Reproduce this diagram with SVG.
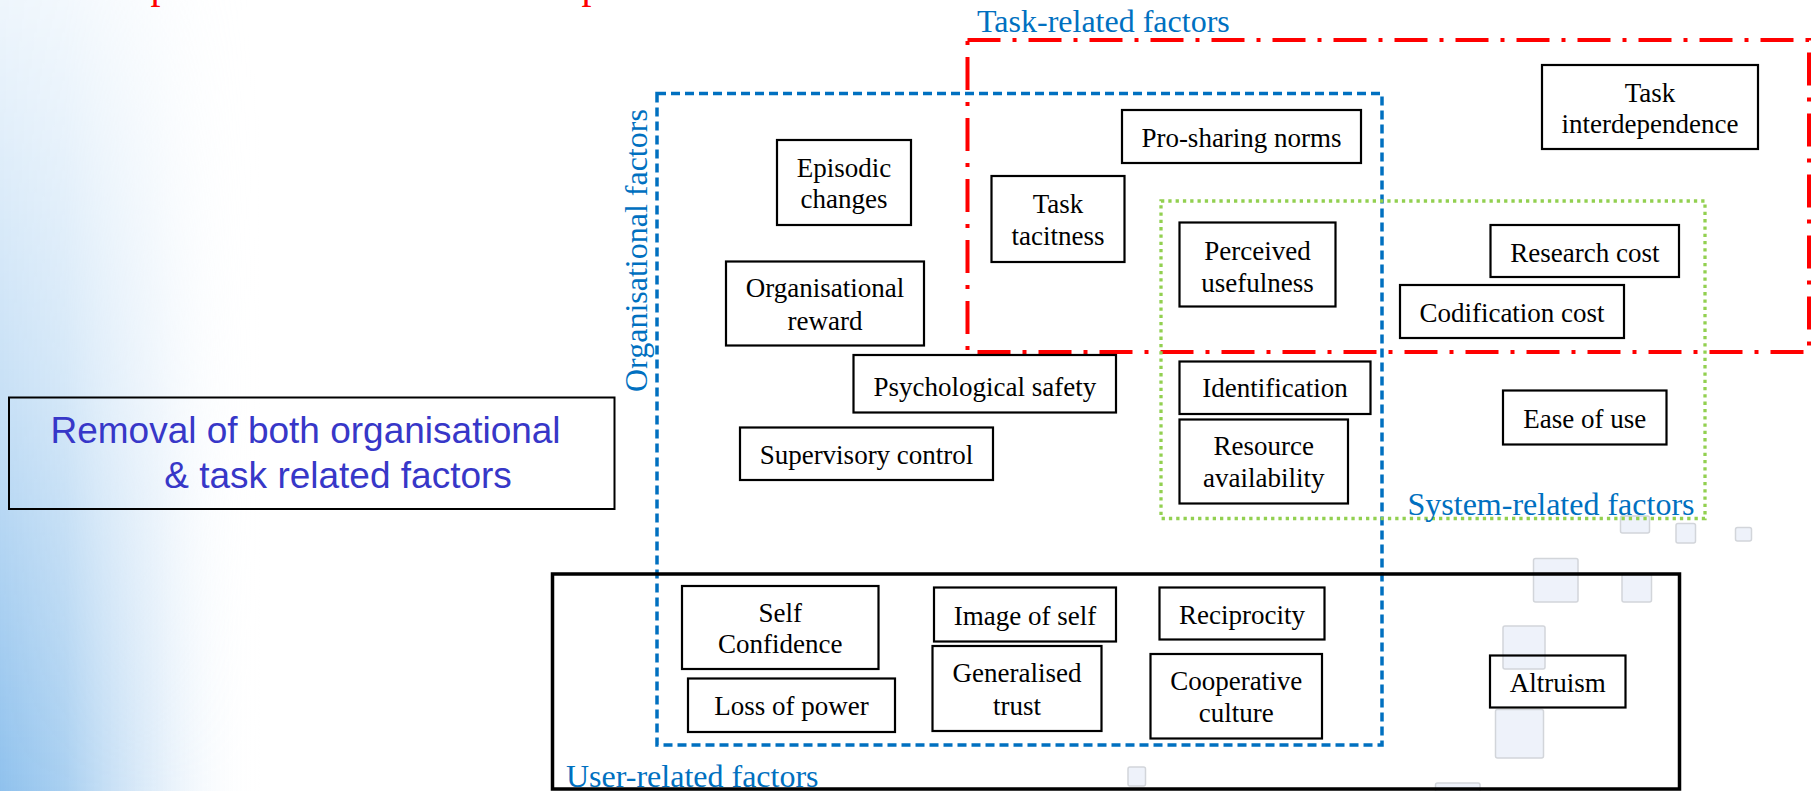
<svg xmlns="http://www.w3.org/2000/svg" width="1817" height="791" viewBox="0 0 1817 791">
  <defs>
    <linearGradient id="sideFade" x1="0" y1="0" x2="1" y2="0">
      <stop offset="0" stop-color="#8fc1ed" stop-opacity="1"/>
      <stop offset="0.25" stop-color="#9fcaef" stop-opacity="0.9"/>
      <stop offset="0.6" stop-color="#c2dcf4" stop-opacity="0.5"/>
      <stop offset="1" stop-color="#ffffff" stop-opacity="0"/>
    </linearGradient>
    <linearGradient id="sideMaskGrad" x1="0" y1="0" x2="0" y2="1">
      <stop offset="0" stop-color="#ffffff" stop-opacity="0.15"/>
      <stop offset="0.5" stop-color="#ffffff" stop-opacity="0.5"/>
      <stop offset="1" stop-color="#ffffff" stop-opacity="1"/>
    </linearGradient>
    <mask id="sideMask" maskUnits="userSpaceOnUse" x="0" y="0" width="260" height="791">
      <rect x="0" y="0" width="260" height="791" fill="url(#sideMaskGrad)"/>
    </mask>
    <style>
      .node rect { fill: none; stroke: #000; stroke-width: 2.2; }
      .node text { font-family: "Liberation Serif", "Times New Roman", serif; font-size: 27px; fill: #000; text-anchor: middle; }
      .label { font-family: "Liberation Serif", "Times New Roman", serif; font-size: 32px; fill: #0070c0; }
      .ghost { fill: #eef2fa; stroke: #d2d5da; stroke-width: 1.5; }
      .title { font-family: "Liberation Serif", "Times New Roman", serif; font-size: 40px; fill: #ff0000; }
    </style>
  </defs>

  <!-- page background with blue side fade -->
  <rect x="0" y="0" width="1817" height="791" fill="#ffffff"/>
  <rect x="0" y="0" width="260" height="791" fill="url(#sideFade)" mask="url(#sideMask)"/>

  <!-- slide title, cut off at the top edge -->
  <text class="title" x="150.5" y="-2">p</text>
  <text class="title" x="581.5" y="-2">p</text>

  <!-- faint leftover thumbnails -->
  <g id="thumbnails">
    <rect class="ghost" x="1620.5" y="516" width="29" height="17" rx="2"/>
    <rect class="ghost" x="1676" y="523.5" width="19.5" height="19.5" rx="2"/>
    <rect class="ghost" x="1735.5" y="527.5" width="16" height="13.5" rx="2"/>
    <rect class="ghost" x="1533.5" y="558.5" width="44.5" height="43.5" rx="2"/>
    <rect class="ghost" x="1622" y="574" width="29.5" height="28" rx="2"/>
    <rect class="ghost" x="1503" y="626" width="42" height="43" rx="2"/>
    <rect class="ghost" x="1495.5" y="709.5" width="48" height="48.5" rx="2"/>
    <rect class="ghost" x="1435.5" y="783" width="44.5" height="12" rx="2"/>
    <rect class="ghost" x="1128" y="767" width="17.5" height="19" rx="2"/>
  </g>

  <!-- factor groupings -->
  <g id="task-related-group">
    <rect x="967.5" y="40" width="841.5" height="312" fill="none" stroke="#ff0000" stroke-width="4" stroke-dasharray="33 12 4 12"/>
    <text class="label" x="977" y="31.5">Task-related factors</text>
  </g>
  <g id="organisational-group">
    <rect x="657" y="93.5" width="725" height="651.5" fill="none" stroke="#0070c0" stroke-width="3.5" stroke-dasharray="9 5"/>
    <text class="label" transform="translate(647,392) rotate(-90)">Organisational factors</text>
  </g>
  <g id="system-related-group">
    <rect x="1161" y="201" width="544" height="317.5" fill="none" stroke="#92d050" stroke-width="3.3" stroke-dasharray="3.3 4"/>
    <text class="label" x="1407.5" y="515">System-related factors</text>
  </g>
  <g id="user-related-group">
    <rect x="552.5" y="574" width="1127" height="215" fill="none" stroke="#000" stroke-width="3.5"/>
    <text class="label" x="566" y="787">User-related factors</text>
  </g>

  <!-- caption box -->
  <g id="removal-note">
    <rect x="9" y="397.5" width="605.5" height="111.5" fill="none" stroke="#000" stroke-width="2"/>
    <text x="50.5" y="443.3" font-family="Liberation Sans, Arial, sans-serif" font-size="37" fill="#3737c8">Removal of both organisational</text>
    <text x="164.3" y="488.3" font-family="Liberation Sans, Arial, sans-serif" font-size="37" fill="#3737c8">&amp; task related factors</text>
  </g>

  <!-- factor nodes -->
  <g id="episodic-changes" class="node">
    <rect x="777" y="140" width="134" height="85"/>
    <text x="844" y="176.5">Episodic</text>
    <text x="844" y="207.5">changes</text>
  </g>
  <g id="task-tacitness" class="node">
    <rect x="991.5" y="176" width="133" height="86"/>
    <text x="1058" y="213">Task</text>
    <text x="1058" y="245">tacitness</text>
  </g>
  <g id="pro-sharing-norms" class="node">
    <rect x="1122" y="110" width="239" height="53"/>
    <text x="1241.5" y="146.5">Pro-sharing norms</text>
  </g>
  <g id="perceived-usefulness" class="node">
    <rect x="1179.5" y="222.5" width="156" height="84"/>
    <text x="1257.5" y="260">Perceived</text>
    <text x="1257.5" y="291.5">usefulness</text>
  </g>
  <g id="organisational-reward" class="node">
    <rect x="726" y="261.5" width="198" height="84"/>
    <text x="825" y="297">Organisational</text>
    <text x="825" y="329.5">reward</text>
  </g>
  <g id="task-interdependence" class="node">
    <rect x="1542" y="65" width="216" height="84"/>
    <text x="1650" y="101.5">Task</text>
    <text x="1650" y="133">interdependence</text>
  </g>
  <g id="research-cost" class="node">
    <rect x="1490.5" y="225" width="188.5" height="52"/>
    <text x="1584.8" y="261.5">Research cost</text>
  </g>
  <g id="codification-cost" class="node">
    <rect x="1400" y="285" width="224" height="53"/>
    <text x="1512" y="321.5">Codification cost</text>
  </g>
  <g id="identification" class="node">
    <rect x="1179.5" y="361.5" width="191" height="52.5"/>
    <text x="1275" y="396.5">Identification</text>
  </g>
  <g id="ease-of-use" class="node">
    <rect x="1503" y="390.5" width="163.5" height="54"/>
    <text x="1584.7" y="427.5">Ease of use</text>
  </g>
  <g id="resource-availability" class="node">
    <rect x="1179.5" y="419.5" width="168.5" height="84"/>
    <text x="1263.7" y="455">Resource</text>
    <text x="1263.7" y="487">availability</text>
  </g>
  <g id="psychological-safety" class="node">
    <rect x="853.5" y="355" width="262.5" height="57.5"/>
    <text x="984.8" y="396">Psychological safety</text>
  </g>
  <g id="supervisory-control" class="node">
    <rect x="740" y="427.5" width="253" height="52.5"/>
    <text x="866.5" y="464">Supervisory control</text>
  </g>
  <g id="self-confidence" class="node">
    <rect x="682" y="586" width="196.5" height="83"/>
    <text x="780.3" y="621.5">Self</text>
    <text x="780.3" y="653">Confidence</text>
  </g>
  <g id="image-of-self" class="node">
    <rect x="934" y="587.5" width="182" height="54"/>
    <text x="1025" y="625">Image of self</text>
  </g>
  <g id="reciprocity" class="node">
    <rect x="1159.5" y="587.5" width="165" height="52"/>
    <text x="1242" y="624">Reciprocity</text>
  </g>
  <g id="loss-of-power" class="node">
    <rect x="688" y="678.5" width="207" height="53.5"/>
    <text x="791.5" y="715">Loss of power</text>
  </g>
  <g id="generalised-trust" class="node">
    <rect x="932.5" y="646" width="169" height="85"/>
    <text x="1017" y="681.5">Generalised</text>
    <text x="1017" y="715">trust</text>
  </g>
  <g id="cooperative-culture" class="node">
    <rect x="1150.5" y="654" width="171.5" height="84.5"/>
    <text x="1236.2" y="690">Cooperative</text>
    <text x="1236.2" y="721.5">culture</text>
  </g>
  <g id="altruism" class="node">
    <rect x="1490" y="655.5" width="135.5" height="52"/>
    <text x="1557.8" y="691.5">Altruism</text>
  </g>

  <!-- no connectors are drawn between factors -->
  <g id="connectors"/>
</svg>
